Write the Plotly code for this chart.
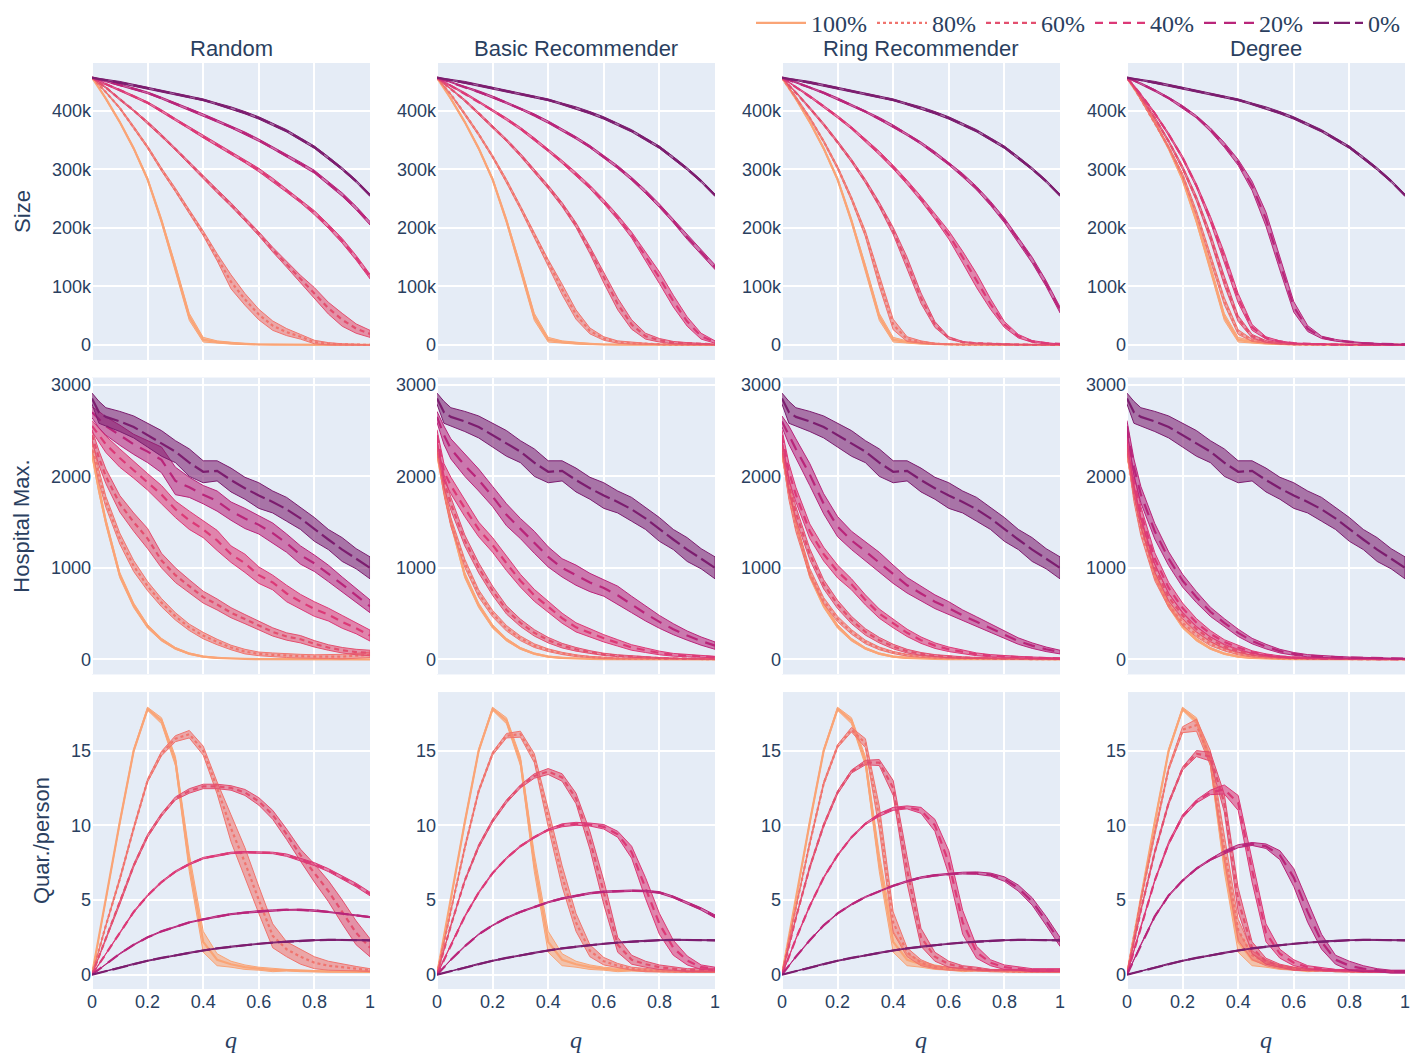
import plotly.graph_objects as go
from plotly.subplots import make_subplots

# Quarantine probability q (x values shared by every panel)
Q = [0, 0.025, 0.05, 0.1, 0.15, 0.2, 0.25, 0.3, 0.35, 0.4, 0.45, 0.5,
     0.55, 0.6, 0.65, 0.7, 0.75, 0.8, 0.85, 0.9, 0.95, 1.0]

STRATEGIES = ["Random", "Basic Recommender", "Ring Recommender", "Degree"]
SHARES = ["100%", "80%", "60%", "40%", "20%", "0%"]
COLORS = ["rgb(250,164,118)", "rgb(240,116,110)", "rgb(227,79,111)",
          "rgb(220,57,119)", "rgb(185,37,122)", "rgb(124,29,111)"]
DASHES = ["solid", "dot", "5px,4px", "8px,6px", "12px,8px", "16px,5px"]

# ---------------- Epidemic size (thousands of people) ----------------
# 100% and 0% adoption do not depend on the strategy
SIZE_100 = [457, 440, 421, 381, 336, 283, 212, 132, 48, 9, 5, 3, 1.5, 0.8, 0.5, 0.3, 0.2, 0.2, 0.1, 0.1, 0.1, 0.1]
SIZE_100_CI = [0, 1, 1, 1.5, 2, 2.5, 3.5, 5, 6, 4, 2, 1.5, 1, 0.6, 0.4, 0.3, 0.2, 0.2, 0.2, 0.2, 0.2, 0.2]
SIZE_0 = [457, 455, 453, 449, 444, 439, 434, 428, 424, 419, 412, 405, 397, 388, 377, 366, 352, 338, 320, 301, 280, 256]
SIZE_0_CI = [0, 1, 1, 1.5, 1.5, 1.5, 1.5, 1.5, 1.5, 1.5, 1.5, 2, 2, 2, 2, 2, 2, 2, 2, 2, 2, 2]

SIZE_RANDOM_80 = [457, 445, 432, 405, 372, 338, 300, 265, 228, 191, 150, 108, 78, 52, 33, 22, 14, 5, 2, 1, 0.5, 0.3]
SIZE_RANDOM_80_CI = [0, 1, 1, 1.5, 2, 2, 2.5, 3, 3, 4, 6, 12, 10, 9, 8, 6, 4, 3, 2, 1, 0.8, 0.5]
SIZE_RANDOM_60 = [457, 448, 440, 420, 401, 380, 358, 335, 311, 287, 263, 240, 215, 190, 163, 138, 113, 89, 63, 43, 28, 19]
SIZE_RANDOM_60_CI = [0, 1, 1, 1.5, 1.5, 2, 2, 2, 2.5, 2.5, 3, 3, 3, 3.5, 4, 5, 6, 9, 10, 11, 8, 6]
SIZE_RANDOM_40 = [457, 451, 446, 436, 425, 414, 400, 385, 371, 356, 342, 328, 314, 299, 282, 264, 246, 226, 203, 178, 149, 117]
SIZE_RANDOM_40_CI = [0, 1, 1, 1.5, 1.5, 1.5, 2, 2, 2, 2, 2.5, 2.5, 2.5, 3, 3, 3, 3, 3.5, 3.5, 4, 4, 4]
SIZE_RANDOM_20 = [457, 454, 451, 445, 438, 431, 422, 413, 403, 393, 383, 373, 362, 350, 337, 324, 310, 296, 277, 257, 234, 208]
SIZE_RANDOM_20_CI = [0, 1, 1, 1, 1.5, 1.5, 1.5, 1.5, 1.5, 2, 2, 2, 2, 2, 2, 2.5, 2.5, 2.5, 2.5, 3, 3, 3]

SIZE_BASIC_80 = [457, 442, 428, 395, 360, 322, 280, 235, 188, 140, 95, 52, 24, 11, 5, 3, 2, 1, 0.5, 0.4, 0.3, 0.3]
SIZE_BASIC_80_CI = [0, 1, 1, 1.5, 2, 2, 3, 3, 4, 6, 9, 8, 5, 3, 2, 1.5, 1, 0.5, 0.5, 0.5, 0.5, 0.5]
SIZE_BASIC_60 = [457, 447, 438, 418, 396, 373, 350, 325, 298, 270, 240, 205, 162, 115, 70, 35, 15, 8, 4, 3, 2, 1]
SIZE_BASIC_60_CI = [0, 1, 1, 1.5, 1.5, 2, 2, 2.5, 3, 3, 3.5, 4, 6, 9, 10, 8, 5, 3, 2, 1, 1, 0.5]
SIZE_BASIC_40 = [457, 450, 443, 430, 416, 401, 386, 370, 352, 333, 313, 292, 270, 245, 218, 188, 152, 115, 75, 40, 15, 5]
SIZE_BASIC_40_CI = [0, 1, 1, 1.5, 1.5, 1.5, 2, 2, 2, 2.5, 2.5, 3, 3, 3.5, 4, 5, 7, 10, 10, 8, 5, 2]
SIZE_BASIC_20 = [457, 453, 449, 441, 433, 424, 414, 404, 393, 381, 368, 354, 339, 322, 304, 284, 262, 238, 212, 184, 158, 133]
SIZE_BASIC_20_CI = [0, 1, 1, 1, 1.5, 1.5, 1.5, 1.5, 2, 2, 2, 2, 2, 2.5, 2.5, 2.5, 3, 3, 3, 3.5, 3.5, 4]

SIZE_RING_80 = [457, 440, 424, 388, 348, 303, 250, 190, 110, 35, 10, 5, 2, 1, 0.5, 0.4, 0.3, 0.3, 0.2, 0.2, 0.2, 0.2]
SIZE_RING_80_CI = [0, 1, 1, 1.5, 2, 2.5, 3, 5, 10, 9, 4, 2, 1, 0.5, 0.5, 0.3, 0.3, 0.3, 0.3, 0.3, 0.3, 0.3]
SIZE_RING_60 = [457, 444, 432, 405, 377, 347, 315, 280, 240, 195, 140, 80, 35, 12, 5, 3, 2, 1, 0.5, 0.4, 0.3, 0.3]
SIZE_RING_60_CI = [0, 1, 1, 1.5, 2, 2, 2.5, 3, 4, 6, 10, 9, 5, 2, 1, 0.5, 0.5, 0.5, 0.3, 0.3, 0.3, 0.3]
SIZE_RING_40 = [457, 449, 441, 425, 408, 390, 371, 350, 328, 304, 278, 250, 220, 188, 150, 110, 70, 35, 15, 6, 3, 2]
SIZE_RING_40_CI = [0, 1, 1, 1.5, 1.5, 2, 2, 2.5, 3, 3, 3.5, 4, 5, 7, 10, 12, 9, 5, 3, 1.5, 1, 0.5]
SIZE_RING_20 = [457, 453, 449, 440, 431, 421, 410, 399, 387, 374, 360, 345, 328, 310, 290, 268, 242, 213, 180, 145, 105, 60]
SIZE_RING_20_CI = [0, 1, 1, 1, 1.5, 1.5, 1.5, 1.5, 2, 2, 2, 2, 2.5, 2.5, 3, 3, 3.5, 4, 4.5, 5, 5, 5]

SIZE_DEGREE_80 = [457, 440, 420, 380, 338, 290, 225, 150, 75, 22, 8, 4, 2, 1, 0.5, 0.4, 0.3, 0.3, 0.2, 0.2, 0.2, 0.2]
SIZE_DEGREE_80_CI = [0, 1, 1, 2, 2, 3, 4, 6, 6, 4, 2, 1, 0.5, 0.5, 0.3, 0.3, 0.3, 0.3, 0.3, 0.3, 0.3, 0.3]
SIZE_DEGREE_60 = [457, 441, 424, 388, 348, 303, 250, 185, 110, 45, 15, 6, 3, 1.5, 1, 0.5, 0.4, 0.3, 0.3, 0.2, 0.2, 0.2]
SIZE_DEGREE_60_CI = [0, 1, 1, 2, 2, 3, 4, 6, 8, 5, 3, 1.5, 1, 0.5, 0.5, 0.3, 0.3, 0.3, 0.3, 0.3, 0.3, 0.3]
SIZE_DEGREE_40 = [457, 443, 428, 396, 360, 320, 272, 215, 150, 80, 30, 12, 6, 3, 2, 1, 0.5, 0.4, 0.3, 0.3, 0.2, 0.2]
SIZE_DEGREE_40_CI = [0, 1, 1, 1.5, 2, 2.5, 3, 5, 8, 8, 5, 2, 1, 0.5, 0.5, 0.3, 0.3, 0.3, 0.3, 0.3, 0.3, 0.3]
SIZE_DEGREE_20 = [457, 452, 447, 435, 422, 407, 390, 368, 342, 312, 272, 215, 140, 65, 28, 13, 8, 5, 3, 2, 1, 1]
SIZE_DEGREE_20_CI = [0, 1, 1, 1.5, 1.5, 2, 2, 3, 4, 5, 8, 12, 12, 9, 5, 2, 1.5, 1, 1, 0.5, 0.5, 0.5]

# ---------------- Maximum hospital occupancy ----------------
HOSP_100 = [2250, 1850, 1500, 920, 590, 360, 215, 120, 62, 30, 15, 8, 5, 3, 2, 1, 1, 1, 0, 0, 0, 0]
HOSP_100_CI = [25, 35, 35, 30, 25, 20, 15, 10, 8, 6, 5, 4, 3, 2, 2, 1, 1, 1, 1, 1, 1, 1]
HOSP_0 = [2850, 2700, 2650, 2600, 2540, 2450, 2360, 2270, 2150, 2050, 2060, 1960, 1870, 1790, 1720, 1640, 1540, 1420, 1310, 1200, 1100, 1000]
HOSP_0_CI = [60, 120, 100, 110, 120, 130, 140, 120, 150, 120, 110, 130, 120, 140, 120, 130, 120, 130, 110, 130, 110, 120]

HOSP_RANDOM_80 = [2350, 2000, 1720, 1320, 1020, 800, 620, 470, 350, 260, 190, 130, 85, 60, 50, 40, 35, 30, 30, 30, 40, 50]
HOSP_RANDOM_80_CI = [50, 70, 60, 60, 60, 50, 45, 40, 35, 35, 30, 25, 25, 20, 20, 20, 20, 20, 20, 25, 25, 30]
HOSP_RANDOM_60 = [2450, 2200, 2000, 1700, 1500, 1320, 1080, 920, 800, 680, 600, 510, 440, 370, 300, 250, 220, 170, 130, 100, 80, 70]
HOSP_RANDOM_60_CI = [60, 80, 80, 90, 100, 110, 80, 80, 70, 65, 60, 55, 50, 45, 45, 40, 40, 35, 30, 30, 30, 30]
HOSP_RANDOM_40 = [2550, 2450, 2350, 2200, 2070, 1940, 1800, 1640, 1520, 1420, 1300, 1150, 1050, 920, 840, 720, 630, 550, 490, 410, 340, 260]
HOSP_RANDOM_40_CI = [60, 80, 90, 100, 90, 90, 100, 90, 100, 90, 110, 90, 100, 90, 80, 90, 80, 80, 70, 70, 60, 60]
HOSP_RANDOM_20 = [2700, 2620, 2550, 2450, 2350, 2270, 2180, 1950, 1880, 1800, 1730, 1620, 1540, 1470, 1380, 1270, 1140, 1050, 940, 820, 700, 580]
HOSP_RANDOM_20_CI = [60, 90, 100, 110, 110, 120, 140, 150, 110, 100, 110, 100, 110, 100, 110, 100, 100, 90, 90, 80, 80, 70]

HOSP_BASIC_80 = [2300, 1850, 1500, 1050, 720, 500, 340, 230, 150, 100, 65, 40, 25, 15, 10, 8, 6, 5, 4, 3, 3, 3]
HOSP_BASIC_80_CI = [40, 50, 50, 45, 40, 35, 30, 25, 20, 15, 12, 10, 8, 6, 5, 4, 3, 3, 3, 3, 3, 3]
HOSP_BASIC_60 = [2350, 1950, 1700, 1300, 1000, 750, 540, 400, 290, 210, 150, 110, 80, 55, 40, 30, 20, 15, 10, 8, 5, 5]
HOSP_BASIC_60_CI = [40, 70, 70, 60, 55, 50, 45, 40, 35, 30, 25, 20, 15, 12, 10, 8, 6, 5, 4, 3, 3, 3]
HOSP_BASIC_40 = [2450, 2050, 1900, 1650, 1420, 1250, 1050, 860, 700, 570, 450, 350, 290, 230, 180, 130, 100, 70, 50, 40, 30, 25]
HOSP_BASIC_40_CI = [60, 90, 90, 90, 80, 80, 80, 70, 65, 60, 55, 50, 45, 40, 35, 30, 25, 20, 15, 12, 10, 8]
HOSP_BASIC_20 = [2650, 2450, 2300, 2120, 1960, 1780, 1580, 1430, 1280, 1120, 1000, 920, 840, 780, 700, 600, 500, 410, 330, 260, 200, 150]
HOSP_BASIC_20_CI = [60, 100, 110, 120, 120, 110, 120, 110, 120, 110, 100, 110, 100, 90, 100, 90, 80, 70, 60, 50, 45, 40]

HOSP_RING_80 = [2300, 1800, 1450, 950, 640, 440, 300, 190, 120, 75, 45, 30, 20, 14, 10, 8, 6, 5, 4, 3, 3, 3]
HOSP_RING_80_CI = [40, 55, 55, 45, 35, 30, 25, 20, 15, 12, 10, 8, 6, 5, 4, 3, 3, 3, 3, 3, 3, 3]
HOSP_RING_60 = [2350, 1900, 1600, 1150, 820, 600, 430, 300, 210, 140, 90, 60, 40, 28, 20, 15, 10, 8, 6, 5, 4, 4]
HOSP_RING_60_CI = [40, 70, 70, 60, 50, 45, 40, 35, 30, 25, 20, 15, 12, 10, 8, 6, 5, 4, 4, 3, 3, 3]
HOSP_RING_40 = [2450, 2050, 1800, 1400, 1150, 960, 820, 650, 500, 390, 290, 210, 150, 110, 80, 55, 40, 30, 25, 20, 15, 10]
HOSP_RING_40_CI = [60, 90, 80, 80, 75, 70, 60, 55, 50, 45, 40, 35, 30, 25, 20, 15, 12, 10, 8, 6, 5, 5]
HOSP_RING_20 = [2600, 2450, 2300, 2020, 1700, 1450, 1300, 1180, 1060, 930, 810, 720, 630, 560, 480, 410, 340, 270, 200, 150, 110, 80]
HOSP_RING_20_CI = [60, 100, 110, 120, 110, 110, 100, 100, 110, 100, 85, 80, 75, 70, 60, 55, 50, 40, 35, 30, 25, 20]

HOSP_DEGREE_80 = [2300, 1780, 1400, 900, 600, 400, 270, 170, 105, 60, 35, 20, 12, 8, 6, 5, 4, 3, 3, 2, 2, 2]
HOSP_DEGREE_80_CI = [40, 55, 50, 40, 35, 30, 25, 20, 12, 10, 8, 5, 4, 3, 2, 2, 2, 2, 2, 2, 2, 2]
HOSP_DEGREE_60 = [2350, 1850, 1500, 1000, 680, 480, 330, 220, 140, 90, 55, 35, 22, 14, 10, 7, 5, 4, 3, 3, 2, 2]
HOSP_DEGREE_60_CI = [40, 60, 55, 45, 40, 35, 30, 25, 18, 12, 10, 7, 5, 4, 3, 2, 2, 2, 2, 2, 2, 2]
HOSP_DEGREE_40 = [2450, 1950, 1600, 1100, 780, 560, 400, 280, 190, 130, 80, 50, 30, 20, 14, 10, 7, 5, 4, 3, 3, 3]
HOSP_DEGREE_40_CI = [50, 70, 70, 65, 60, 55, 45, 35, 25, 20, 14, 10, 8, 6, 5, 4, 3, 3, 2, 2, 2, 2]
HOSP_DEGREE_20 = [2550, 2100, 1800, 1400, 1100, 860, 680, 520, 400, 290, 200, 140, 90, 60, 40, 30, 25, 20, 15, 12, 10, 8]
HOSP_DEGREE_20_CI = [60, 90, 90, 85, 75, 70, 60, 50, 45, 40, 30, 25, 20, 15, 12, 10, 8, 6, 5, 5, 4, 4]

# ---------------- Quarantine days per person ----------------
QUAR_100 = [0, 2.6, 5.0, 10.2, 15.0, 17.8, 17.0, 14.3, 7.5, 2.2, 1.0, 0.7, 0.5, 0.4, 0.3, 0.3, 0.25, 0.2, 0.2, 0.2, 0.2, 0.2]
QUAR_100_CI = [0, 0.05, 0.05, 0.1, 0.1, 0.1, 0.2, 0.3, 0.6, 0.7, 0.4, 0.2, 0.15, 0.1, 0.1, 0.05, 0.05, 0.05, 0.05, 0.05, 0.05, 0.05]
QUAR_0 = [0, 0.12, 0.25, 0.5, 0.72, 0.93, 1.12, 1.3, 1.47, 1.62, 1.76, 1.88, 1.98, 2.07, 2.15, 2.22, 2.27, 2.31, 2.33, 2.33, 2.32, 2.3]
QUAR_0_CI = [0, 0.01, 0.02, 0.03, 0.03, 0.03, 0.03, 0.03, 0.03, 0.03, 0.03, 0.03, 0.03, 0.03, 0.03, 0.03, 0.03, 0.03, 0.03, 0.03, 0.03, 0.03]

QUAR_RANDOM_80 = [0, 1.7, 3.3, 6.4, 9.8, 13.0, 14.8, 15.8, 16.1, 15.0, 12.5, 9.8, 7.5, 5.0, 2.6, 1.7, 1.2, 0.8, 0.6, 0.5, 0.4, 0.3]
QUAR_RANDOM_80_CI = [0, 0.05, 0.05, 0.1, 0.1, 0.1, 0.15, 0.2, 0.25, 0.3, 0.4, 0.9, 1.0, 0.9, 0.8, 0.5, 0.5, 0.4, 0.3, 0.2, 0.15, 0.1]
QUAR_RANDOM_60 = [0, 1.2, 2.4, 4.8, 7.3, 9.3, 10.7, 11.8, 12.3, 12.6, 12.6, 12.5, 12.2, 11.6, 10.7, 9.4, 8.0, 6.8, 5.6, 4.2, 2.8, 1.8]
QUAR_RANDOM_60_CI = [0, 0.05, 0.05, 0.1, 0.1, 0.1, 0.1, 0.1, 0.15, 0.15, 0.15, 0.15, 0.2, 0.25, 0.3, 0.35, 0.4, 0.6, 0.7, 0.8, 0.8, 0.6]
QUAR_RANDOM_40 = [0, 0.7, 1.4, 2.8, 4.2, 5.3, 6.2, 6.9, 7.4, 7.8, 8.0, 8.15, 8.2, 8.2, 8.15, 8.0, 7.7, 7.4, 7.0, 6.5, 6.0, 5.4]
QUAR_RANDOM_40_CI = [0, 0.02, 0.03, 0.05, 0.05, 0.05, 0.05, 0.05, 0.05, 0.05, 0.05, 0.05, 0.05, 0.05, 0.05, 0.08, 0.1, 0.1, 0.1, 0.1, 0.12, 0.12]
QUAR_RANDOM_20 = [0, 0.35, 0.7, 1.4, 2.0, 2.5, 2.9, 3.2, 3.5, 3.7, 3.9, 4.05, 4.15, 4.25, 4.3, 4.35, 4.35, 4.3, 4.2, 4.1, 4.0, 3.85]
QUAR_RANDOM_20_CI = [0, 0.02, 0.02, 0.03, 0.03, 0.03, 0.03, 0.03, 0.03, 0.03, 0.04, 0.04, 0.04, 0.04, 0.04, 0.04, 0.04, 0.04, 0.04, 0.04, 0.04, 0.04]

QUAR_BASIC_80 = [0, 2.2, 4.3, 8.5, 12.3, 14.8, 16.0, 16.1, 14.5, 10.5, 6.6, 3.5, 1.6, 0.9, 0.6, 0.4, 0.3, 0.25, 0.2, 0.2, 0.2, 0.2]
QUAR_BASIC_80_CI = [0, 0.05, 0.05, 0.1, 0.1, 0.1, 0.15, 0.2, 0.3, 0.6, 0.7, 0.6, 0.4, 0.25, 0.15, 0.1, 0.1, 0.05, 0.05, 0.05, 0.05, 0.05]
QUAR_BASIC_60 = [0, 1.7, 3.3, 6.3, 8.6, 10.3, 11.6, 12.6, 13.3, 13.6, 13.2, 11.8, 9.0, 5.5, 2.0, 1.0, 0.7, 0.5, 0.4, 0.3, 0.3, 0.3]
QUAR_BASIC_60_CI = [0, 0.05, 0.05, 0.05, 0.1, 0.1, 0.1, 0.1, 0.15, 0.2, 0.25, 0.35, 0.6, 0.8, 0.5, 0.3, 0.2, 0.15, 0.1, 0.1, 0.1, 0.1]
QUAR_BASIC_40 = [0, 1.0, 2.0, 3.9, 5.5, 6.8, 7.8, 8.6, 9.2, 9.7, 10.0, 10.1, 10.05, 9.9, 9.4, 8.2, 5.8, 3.4, 1.8, 0.95, 0.5, 0.4]
QUAR_BASIC_40_CI = [0, 0.03, 0.03, 0.05, 0.05, 0.05, 0.05, 0.05, 0.05, 0.05, 0.1, 0.1, 0.1, 0.15, 0.2, 0.4, 0.7, 0.7, 0.5, 0.3, 0.15, 0.1]
QUAR_BASIC_20 = [0, 0.5, 1.0, 1.9, 2.7, 3.3, 3.8, 4.2, 4.55, 4.85, 5.1, 5.3, 5.45, 5.55, 5.6, 5.62, 5.6, 5.5, 5.2, 4.8, 4.4, 3.9]
QUAR_BASIC_20_CI = [0, 0.02, 0.02, 0.03, 0.03, 0.03, 0.04, 0.04, 0.04, 0.04, 0.05, 0.05, 0.05, 0.05, 0.05, 0.05, 0.05, 0.06, 0.06, 0.07, 0.08, 0.1]

QUAR_RING_80 = [0, 2.3, 4.5, 8.8, 12.8, 15.3, 16.4, 15.5, 10.5, 3.5, 1.5, 0.8, 0.5, 0.4, 0.3, 0.3, 0.25, 0.2, 0.2, 0.2, 0.2, 0.2]
QUAR_RING_80_CI = [0, 0.05, 0.05, 0.1, 0.1, 0.1, 0.15, 0.3, 0.8, 0.7, 0.3, 0.2, 0.1, 0.1, 0.05, 0.05, 0.05, 0.05, 0.05, 0.05, 0.05, 0.05]
QUAR_RING_60 = [0, 1.9, 3.8, 7.2, 10.0, 12.2, 13.6, 14.2, 14.2, 12.5, 7.0, 2.5, 1.2, 0.7, 0.5, 0.4, 0.3, 0.3, 0.3, 0.3, 0.3, 0.3]
QUAR_RING_60_CI = [0, 0.05, 0.05, 0.1, 0.1, 0.1, 0.1, 0.15, 0.2, 0.5, 0.9, 0.6, 0.3, 0.2, 0.1, 0.1, 0.05, 0.05, 0.05, 0.05, 0.05, 0.05]
QUAR_RING_40 = [0, 1.2, 2.4, 4.6, 6.5, 8.0, 9.2, 10.1, 10.7, 11.1, 11.2, 11.0, 10.0, 7.5, 3.5, 1.5, 0.8, 0.5, 0.4, 0.3, 0.3, 0.3]
QUAR_RING_40_CI = [0, 0.03, 0.03, 0.05, 0.05, 0.05, 0.05, 0.05, 0.1, 0.1, 0.1, 0.2, 0.4, 0.8, 0.8, 0.4, 0.2, 0.15, 0.1, 0.1, 0.1, 0.1]
QUAR_RING_20 = [0, 0.6, 1.2, 2.3, 3.3, 4.1, 4.7, 5.2, 5.6, 5.95, 6.25, 6.5, 6.65, 6.75, 6.8, 6.8, 6.7, 6.4, 5.8, 4.9, 3.6, 2.2]
QUAR_RING_20_CI = [0, 0.02, 0.02, 0.03, 0.03, 0.03, 0.04, 0.04, 0.04, 0.04, 0.05, 0.05, 0.05, 0.05, 0.06, 0.08, 0.1, 0.15, 0.2, 0.25, 0.3, 0.3]

QUAR_DEGREE_80 = [0, 2.5, 5.0, 9.5, 13.8, 16.4, 16.7, 14.5, 8.5, 3.0, 1.3, 0.8, 0.5, 0.4, 0.3, 0.3, 0.25, 0.2, 0.2, 0.2, 0.2, 0.2]
QUAR_DEGREE_80_CI = [0, 0.05, 0.05, 0.1, 0.1, 0.2, 0.4, 0.5, 0.8, 0.7, 0.3, 0.2, 0.1, 0.1, 0.05, 0.05, 0.05, 0.05, 0.05, 0.05, 0.05, 0.05]
QUAR_DEGREE_60 = [0, 2.2, 4.3, 8.2, 11.5, 13.8, 14.8, 14.6, 11.5, 5.0, 1.8, 0.9, 0.6, 0.4, 0.3, 0.3, 0.25, 0.2, 0.2, 0.2, 0.2, 0.2]
QUAR_DEGREE_60_CI = [0, 0.05, 0.05, 0.1, 0.1, 0.1, 0.2, 0.3, 0.6, 0.8, 0.4, 0.2, 0.1, 0.1, 0.05, 0.05, 0.05, 0.05, 0.05, 0.05, 0.05, 0.05]
QUAR_DEGREE_40 = [0, 1.6, 3.2, 6.3, 8.8, 10.6, 11.6, 12.2, 12.4, 11.5, 7.0, 2.8, 1.4, 0.8, 0.5, 0.4, 0.3, 0.3, 0.25, 0.2, 0.2, 0.2]
QUAR_DEGREE_40_CI = [0, 0.05, 0.05, 0.05, 0.1, 0.1, 0.1, 0.15, 0.3, 0.5, 0.8, 0.6, 0.3, 0.2, 0.1, 0.1, 0.05, 0.05, 0.05, 0.05, 0.05, 0.05]
QUAR_DEGREE_20 = [0, 1.0, 2.0, 3.9, 5.3, 6.3, 7.1, 7.7, 8.2, 8.6, 8.75, 8.6, 8.0, 6.5, 4.2, 2.2, 1.0, 0.6, 0.4, 0.3, 0.2, 0.2]
QUAR_DEGREE_20_CI = [0, 0.03, 0.03, 0.05, 0.05, 0.05, 0.05, 0.05, 0.1, 0.1, 0.1, 0.15, 0.3, 0.6, 0.7, 0.5, 0.3, 0.3, 0.2, 0.1, 0.1, 0.1]


def thousands(values):
    return [v * 1000 for v in values]


def panel(shared_100, shared_0, s80, s60, s40, s20):
    """Ordered (mean, ci) pairs for 100%, 80%, 60%, 40%, 20%, 0% adoption."""
    return [shared_100, s80, s60, s40, s20, shared_0]


SIZE_PANELS = {
    name: [(thousands(m), thousands(c)) for m, c in panel(
        (SIZE_100, SIZE_100_CI), (SIZE_0, SIZE_0_CI), *series)]
    for name, series in [
        ("Random", [(SIZE_RANDOM_80, SIZE_RANDOM_80_CI), (SIZE_RANDOM_60, SIZE_RANDOM_60_CI),
                    (SIZE_RANDOM_40, SIZE_RANDOM_40_CI), (SIZE_RANDOM_20, SIZE_RANDOM_20_CI)]),
        ("Basic Recommender", [(SIZE_BASIC_80, SIZE_BASIC_80_CI), (SIZE_BASIC_60, SIZE_BASIC_60_CI),
                               (SIZE_BASIC_40, SIZE_BASIC_40_CI), (SIZE_BASIC_20, SIZE_BASIC_20_CI)]),
        ("Ring Recommender", [(SIZE_RING_80, SIZE_RING_80_CI), (SIZE_RING_60, SIZE_RING_60_CI),
                              (SIZE_RING_40, SIZE_RING_40_CI), (SIZE_RING_20, SIZE_RING_20_CI)]),
        ("Degree", [(SIZE_DEGREE_80, SIZE_DEGREE_80_CI), (SIZE_DEGREE_60, SIZE_DEGREE_60_CI),
                    (SIZE_DEGREE_40, SIZE_DEGREE_40_CI), (SIZE_DEGREE_20, SIZE_DEGREE_20_CI)]),
    ]
}

HOSP_PANELS = {
    "Random": panel((HOSP_100, HOSP_100_CI), (HOSP_0, HOSP_0_CI),
                    (HOSP_RANDOM_80, HOSP_RANDOM_80_CI), (HOSP_RANDOM_60, HOSP_RANDOM_60_CI),
                    (HOSP_RANDOM_40, HOSP_RANDOM_40_CI), (HOSP_RANDOM_20, HOSP_RANDOM_20_CI)),
    "Basic Recommender": panel((HOSP_100, HOSP_100_CI), (HOSP_0, HOSP_0_CI),
                               (HOSP_BASIC_80, HOSP_BASIC_80_CI), (HOSP_BASIC_60, HOSP_BASIC_60_CI),
                               (HOSP_BASIC_40, HOSP_BASIC_40_CI), (HOSP_BASIC_20, HOSP_BASIC_20_CI)),
    "Ring Recommender": panel((HOSP_100, HOSP_100_CI), (HOSP_0, HOSP_0_CI),
                              (HOSP_RING_80, HOSP_RING_80_CI), (HOSP_RING_60, HOSP_RING_60_CI),
                              (HOSP_RING_40, HOSP_RING_40_CI), (HOSP_RING_20, HOSP_RING_20_CI)),
    "Degree": panel((HOSP_100, HOSP_100_CI), (HOSP_0, HOSP_0_CI),
                    (HOSP_DEGREE_80, HOSP_DEGREE_80_CI), (HOSP_DEGREE_60, HOSP_DEGREE_60_CI),
                    (HOSP_DEGREE_40, HOSP_DEGREE_40_CI), (HOSP_DEGREE_20, HOSP_DEGREE_20_CI)),
}

QUAR_PANELS = {
    "Random": panel((QUAR_100, QUAR_100_CI), (QUAR_0, QUAR_0_CI),
                    (QUAR_RANDOM_80, QUAR_RANDOM_80_CI), (QUAR_RANDOM_60, QUAR_RANDOM_60_CI),
                    (QUAR_RANDOM_40, QUAR_RANDOM_40_CI), (QUAR_RANDOM_20, QUAR_RANDOM_20_CI)),
    "Basic Recommender": panel((QUAR_100, QUAR_100_CI), (QUAR_0, QUAR_0_CI),
                               (QUAR_BASIC_80, QUAR_BASIC_80_CI), (QUAR_BASIC_60, QUAR_BASIC_60_CI),
                               (QUAR_BASIC_40, QUAR_BASIC_40_CI), (QUAR_BASIC_20, QUAR_BASIC_20_CI)),
    "Ring Recommender": panel((QUAR_100, QUAR_100_CI), (QUAR_0, QUAR_0_CI),
                              (QUAR_RING_80, QUAR_RING_80_CI), (QUAR_RING_60, QUAR_RING_60_CI),
                              (QUAR_RING_40, QUAR_RING_40_CI), (QUAR_RING_20, QUAR_RING_20_CI)),
    "Degree": panel((QUAR_100, QUAR_100_CI), (QUAR_0, QUAR_0_CI),
                    (QUAR_DEGREE_80, QUAR_DEGREE_80_CI), (QUAR_DEGREE_60, QUAR_DEGREE_60_CI),
                    (QUAR_DEGREE_40, QUAR_DEGREE_40_CI), (QUAR_DEGREE_20, QUAR_DEGREE_20_CI)),
}

ROWS = [("Size", SIZE_PANELS, [-25600, 482000], 100000),
        ("Hospital Max.", HOSP_PANELS, [-165, 3080], 1000),
        ("Quar./person", QUAR_PANELS, [-0.96, 18.92], 5)]


def with_alpha(rgb, alpha):
    return rgb.replace("rgb(", "rgba(").replace(")", f",{alpha})")


fig = make_subplots(rows=3, cols=4, shared_xaxes=True,
                    horizontal_spacing=0.051, vertical_spacing=0.019,
                    subplot_titles=STRATEGIES)

for r, (ylabel, panels, yrange, ydtick) in enumerate(ROWS, start=1):
    for c, strategy in enumerate(STRATEGIES, start=1):
        for k, (mean, ci) in enumerate(panels[strategy]):
            color = COLORS[k]
            upper = [m + e for m, e in zip(mean, ci)]
            lower = [m - e for m, e in zip(mean, ci)]
            # confidence band as a closed polygon
            fig.add_trace(go.Scatter(
                x=Q + Q[::-1], y=upper + lower[::-1], fill="toself",
                fillcolor=with_alpha(color, 0.58), mode="lines",
                line=dict(color=color, width=1), hoverinfo="skip",
                showlegend=False, legendgroup=SHARES[k]), row=r, col=c)
            fig.add_trace(go.Scatter(
                x=Q, y=mean, mode="lines", name=SHARES[k],
                line=dict(color=color, width=2.2, dash=DASHES[k]),
                legendgroup=SHARES[k], showlegend=(r == 1 and c == 1)),
                row=r, col=c)
        fig.update_yaxes(range=yrange, dtick=ydtick, row=r, col=c)
    fig.update_yaxes(title_text=ylabel, row=r, col=1)

fig.update_xaxes(range=[0, 1], dtick=0.2)
for c in range(1, 5):
    fig.update_xaxes(title_text="<i>q</i>",
                     title_font=dict(family="Liberation Serif", size=24),
                     title_standoff=20, row=3, col=c)

fig.update_yaxes(gridwidth=1.5, zerolinewidth=2)
fig.update_xaxes(gridwidth=1.5)

fig.update_annotations(font=dict(size=22))

fig.update_layout(
    template="plotly",
    width=1421, height=1055,
    margin=dict(l=92, r=16, t=63, b=66, autoexpand=False),
    font=dict(family="Liberation Sans, Arial, sans-serif", size=18, color="#2a3f5f"),
    plot_bgcolor="#E5ECF6",
    paper_bgcolor="white",
    legend=dict(orientation="h", x=1, xanchor="right", y=1.0185, yanchor="bottom",
                font=dict(family="Liberation Serif", size=24),
                itemwidth=50, bgcolor="rgba(0,0,0,0)", traceorder="normal"),
)

fig.write_html("out.html")
